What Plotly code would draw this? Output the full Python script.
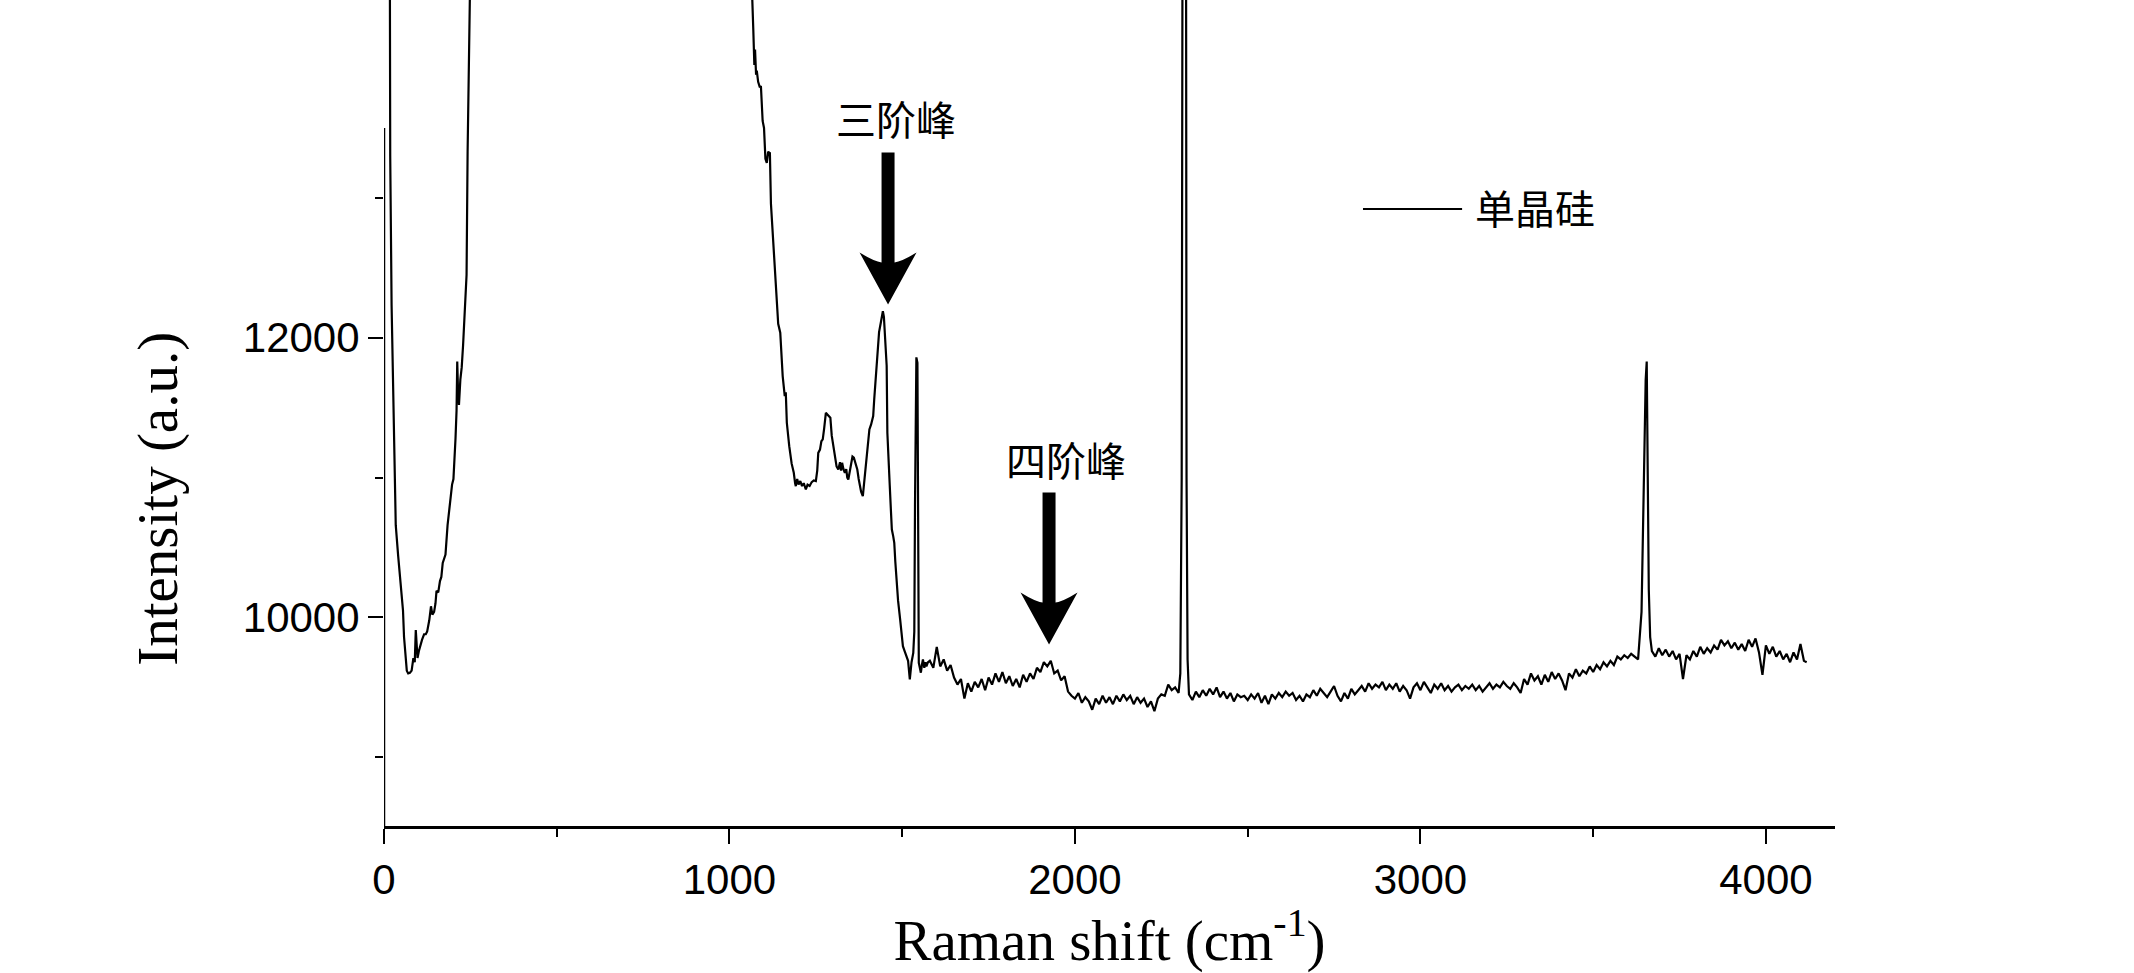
import plotly.graph_objects as go

# ---------------- data ----------------
# left Rayleigh wing / low-shift region
shift_low = [5, 15, 18, 22, 27, 34, 41, 51, 55, 58, 62, 66, 70, 75, 80, 85, 89, 92, 95, 97,
             101, 104, 110, 116, 121, 125, 131, 136, 140, 145, 149, 152, 157, 162, 166, 170,
             174, 178, 184, 188, 193, 197, 201, 205, 207, 210, 212, 214, 217, 221, 225, 229,
             232, 236, 239, 242, 246, 250, 260]
int_low = [30000, 15000, 13300, 12230, 11500, 10660, 10440, 10190, 10050, 9860, 9700, 9620,
           9600, 9605, 9620, 9710, 9680, 9910, 9790, 9710, 9760, 9790, 9840, 9880, 9880, 9900,
           9980, 10080, 10020, 10040, 10100, 10190, 10180, 10260, 10290, 10390, 10420, 10450,
           10660, 10760, 10880, 10950, 10990, 11150, 11280, 11480, 11830, 11650, 11520, 11700,
           11790, 11950, 12090, 12280, 12450, 13330, 14060, 15000, 22000]

# strong band above the visible range
shift_mid = [400, 700, 900, 1000, 1050]
int_mid = [40000, 45000, 35000, 25000, 17000]

# descending wing, second/third order features and 1540 line
shift_wing = [1060, 1066, 1069, 1072, 1074, 1077, 1079, 1083, 1088, 1091, 1096, 1100, 1104,
              1108, 1112, 1117, 1120, 1126, 1132, 1137, 1141, 1147, 1151, 1154, 1160, 1163,
              1166, 1170, 1173, 1180, 1186, 1190, 1192, 1196, 1200, 1205, 1210, 1215, 1221,
              1226, 1232, 1238, 1244, 1250, 1254, 1257, 1262, 1266, 1270, 1274, 1279, 1284,
              1288, 1292, 1296, 1300, 1302, 1306, 1310, 1315, 1320, 1323, 1326, 1330, 1334,
              1338, 1341, 1344, 1348, 1352, 1356, 1360, 1365, 1370, 1374, 1377, 1381, 1386,
              1390, 1395, 1400, 1405, 1410, 1416, 1419, 1422, 1426, 1429, 1433, 1438, 1441,
              1444, 1447, 1450, 1455, 1457, 1460, 1464, 1467, 1470, 1474, 1477, 1480, 1483,
              1488, 1494, 1498, 1502, 1507, 1512, 1517, 1522, 1527, 1532, 1535, 1537, 1539,
              1541, 1544, 1546, 1548, 1551, 1554, 1557, 1560, 1564, 1567, 1570, 1574]
int_wing = [15200, 14420, 14200, 13950, 14060, 13880, 13910, 13830, 13790, 13800, 13550, 13500,
            13280, 13250, 13330, 13320, 12960, 12700, 12410, 12250, 12100, 12036, 11800, 11726,
            11583, 11610, 11392, 11280, 11225, 11100, 11037, 10960, 10939, 10990, 10950, 10975,
            10940, 10960, 10915, 10950, 10940, 10968, 10980, 10975, 11050, 11177, 11200, 11260,
            11273, 11350, 11463, 11450, 11440, 11428, 11300, 11240, 11201, 11118, 11080, 11058,
            11110, 11050, 11106, 11060, 11035, 11060, 11000, 10987, 11050, 11120, 11150, 11142,
            11090, 11058, 10990, 10939, 10900, 10867, 10960, 11082, 11230, 11344, 11380, 11440,
            11560, 11678, 11820, 11940, 12040, 12107, 12160, 12190, 12150, 12000, 11800, 11321,
            11100, 10939, 10780, 10629, 10580, 10534, 10400, 10272, 10120, 9986, 9880, 9795,
            9760, 9723, 9690, 9557, 9680, 9747, 9900, 10800, 11845, 11860, 11821, 10500, 9676,
            9640, 9605, 9660, 9700, 9640, 9680, 9650, 9678]

# baseline 1580-2300 (fourth-order bump near 1920)
shift_base1 = [1580, 1590, 1600, 1610, 1620, 1630, 1640, 1650, 1660, 1670, 1680, 1690, 1700,
               1710, 1720, 1730, 1740, 1750, 1760, 1770, 1780, 1790, 1800, 1810, 1820, 1830,
               1840, 1850, 1860, 1870, 1880, 1890, 1900, 1910, 1920, 1930, 1940, 1950, 1960,
               1970, 1980, 1990, 2000, 2010, 2020, 2030, 2040, 2050, 2060, 2070, 2080, 2090,
               2100, 2110, 2120, 2130, 2140, 2150, 2160, 2170, 2180, 2190, 2200, 2210, 2220,
               2230, 2240, 2250, 2260, 2270, 2280, 2290, 2300]
int_base1 = [9690, 9640, 9790, 9650, 9700, 9620, 9660, 9570, 9520, 9560, 9420, 9530, 9470,
             9540, 9500, 9560, 9480, 9570, 9520, 9600, 9540, 9610, 9530, 9580, 9510, 9560,
             9500, 9590, 9540, 9600, 9560, 9640, 9610, 9680, 9650, 9690, 9600, 9620, 9550,
             9580, 9470, 9440, 9420, 9460, 9390, 9430, 9400, 9340, 9420, 9380, 9440, 9390,
             9430, 9380, 9440, 9400, 9450, 9410, 9440, 9380, 9430, 9390, 9420, 9360, 9400,
             9330, 9420, 9450, 9440, 9520, 9480, 9500, 9460]

# sharp line near 2316 (top beyond the visible range)
shift_p2316 = [2305, 2309, 2312, 2316, 2320, 2323, 2326, 2330]
int_p2316 = [9600, 11000, 16000, 30000, 16000, 11000, 9700, 9450]

# baseline 2340-3630
shift_base2 = [2340, 2350, 2360, 2370, 2380, 2390, 2400, 2410, 2420, 2430, 2440, 2450, 2460,
               2470, 2480, 2490, 2500, 2510, 2520, 2530, 2540, 2550, 2560, 2570, 2580, 2590,
               2600, 2610, 2620, 2630, 2640, 2650, 2660, 2670, 2680, 2690, 2700, 2710, 2720,
               2730, 2740, 2750, 2760, 2770, 2780, 2790, 2800, 2810, 2820, 2830, 2840, 2850,
               2860, 2870, 2880, 2890, 2900, 2910, 2920, 2930, 2940, 2950, 2960, 2970, 2980,
               2990, 3000, 3010, 3020, 3030, 3040, 3050, 3060, 3070, 3080, 3090, 3100, 3110,
               3120, 3130, 3140, 3150, 3160, 3170, 3180, 3190, 3200, 3210, 3220, 3230, 3240,
               3250, 3260, 3270, 3280, 3290, 3300, 3310, 3320, 3330, 3340, 3350, 3360, 3370,
               3380, 3390, 3400, 3410, 3420, 3430, 3440, 3450, 3460, 3470, 3480, 3490, 3500,
               3510, 3520, 3530, 3540, 3550, 3560, 3570, 3580, 3590, 3600, 3610, 3620, 3630]
int_base2 = [9410, 9470, 9430, 9480, 9440, 9490, 9450, 9500, 9430, 9470, 9420, 9460, 9400,
             9450, 9430, 9440, 9410, 9450, 9420, 9460, 9390, 9440, 9380, 9450, 9420, 9460,
             9430, 9470, 9440, 9460, 9410, 9440, 9400, 9450, 9430, 9480, 9440, 9490, 9460,
             9430, 9470, 9510, 9440, 9400, 9460, 9420, 9490, 9450, 9480, 9510, 9470, 9530,
             9490, 9520, 9500, 9540, 9480, 9520, 9490, 9530, 9470, 9510, 9480, 9420, 9500,
             9530, 9480, 9540, 9500, 9460, 9520, 9490, 9530, 9480, 9510, 9470, 9500, 9520,
             9480, 9510, 9490, 9520, 9480, 9510, 9470, 9500, 9530, 9490, 9520, 9500, 9540,
             9510, 9490, 9530, 9500, 9460, 9560, 9520, 9600, 9550, 9580, 9520, 9590, 9540,
             9610, 9560, 9600, 9550, 9480, 9600, 9570, 9630, 9580, 9620, 9600, 9650, 9610,
             9660, 9630, 9680, 9650, 9690, 9660, 9720, 9700, 9730, 9710, 9740, 9720, 9700]

# line near 3655
shift_p3655 = [3640, 3647, 3652, 3655, 3658, 3661, 3665]
int_p3655 = [10040, 11140, 11700, 11830, 11000, 10200, 9860]

# baseline 3670-4118
shift_base3 = [3670, 3680, 3690, 3700, 3710, 3720, 3730, 3740, 3750, 3760, 3770, 3780, 3790,
               3800, 3810, 3820, 3830, 3840, 3850, 3860, 3870, 3880, 3890, 3900, 3910, 3920,
               3930, 3940, 3950, 3960, 3970, 3980, 3990, 4000, 4010, 4020, 4030, 4040, 4050,
               4060, 4070, 4080, 4090, 4100, 4110, 4118]
int_base3 = [9760, 9720, 9780, 9730, 9770, 9720, 9760, 9700, 9740, 9560, 9730, 9700, 9760,
             9720, 9790, 9740, 9780, 9750, 9800, 9770, 9840, 9800, 9830, 9780, 9820, 9770,
             9810, 9760, 9840, 9790, 9850, 9750, 9590, 9800, 9740, 9790, 9720, 9760, 9700,
             9740, 9680, 9750, 9700, 9810, 9690, 9680]

x_tick_vals = [0, 1000, 2000, 3000, 4000]
x_tick_text = ["0", "1000", "2000", "3000", "4000"]
x_minor_vals = [500, 1500, 2500, 3500]
y_tick_vals = [10000, 12000]
y_tick_text = ["10000", "12000"]
y_minor_vals = [9000, 11000, 13000]

series_name = "单晶硅"
label_third = "三阶峰"
label_fourth = "四阶峰"
third_peak_shift, third_peak_int = 1459, 12238
fourth_peak_shift, fourth_peak_int = 1925, 9807

# ---------------- figure ----------------
shift = (shift_low + shift_mid + shift_wing + shift_base1 + shift_p2316 +
         shift_base2 + shift_p3655 + shift_base3)
intensity = (int_low + int_mid + int_wing + int_base1 + int_p2316 +
             int_base2 + int_p3655 + int_base3)

W, H = 2134, 973
ML, MR, MT, MB = 384, 299, 0, 147
x_range = [0, 4200]
y_range = [8509, 14415]

fig = go.Figure()
fig.add_trace(go.Scatter(x=shift, y=intensity, mode="lines", name=series_name,
                         line=dict(color="black", width=2.2), showlegend=False))

tick_font = dict(family="Liberation Sans, Arial", size=42, color="black")
title_font = dict(family="Liberation Serif, Times New Roman", size=57, color="black")

fig.update_layout(
    width=W, height=H,
    margin=dict(l=ML, r=MR, t=MT, b=MB, pad=0, autoexpand=False),
    paper_bgcolor="white", plot_bgcolor="white",
    xaxis=dict(range=x_range, tickmode="array", tickvals=x_tick_vals, ticktext=x_tick_text,
               ticks="outside", ticklen=15, tickwidth=1.5, tickcolor="black",
               minor=dict(tickmode="array", tickvals=x_minor_vals, ticks="outside",
                          ticklen=8, tickwidth=1.5, tickcolor="black", showgrid=False),
               showline=True, linecolor="black", linewidth=2.5,
               showgrid=False, zeroline=False, tickfont=tick_font, automargin=False,
               title=dict(text="Raman shift (cm<sup>-1</sup>)", font=title_font, standoff=14)),
    yaxis=dict(range=y_range, tickmode="array", tickvals=y_tick_vals, ticktext=y_tick_text,
               ticks="outside", ticklen=15, tickwidth=1.5, tickcolor="black",
               minor=dict(tickmode="array", tickvals=y_minor_vals, ticks="outside",
                          ticklen=8, tickwidth=1.5, tickcolor="black", showgrid=False),
               showline=False, showgrid=False, zeroline=False, tickfont=tick_font,
               automargin=False),
)

# y-axis title as rotated text (centred like the reference)
fig.add_annotation(xref="paper", yref="paper", x=-0.1558, y=0.396, xanchor="center",
                   yanchor="middle", text="Intensity (a.u.)", textangle=-90,
                   showarrow=False, font=title_font)

# y-axis line (ends at 13500 like the reference)
fig.add_shape(type="line", xref="x", yref="y", x0=0, x1=0, y0=y_range[0], y1=13500,
              line=dict(color="black", width=2.5), layer="above")

# legend drawn manually
fig.add_shape(type="line", xref="paper", yref="paper", x0=0.6747, x1=0.743, y0=0.747, y1=0.747,
              line=dict(color="black", width=2))
fig.add_annotation(xref="paper", yref="paper", x=0.7505, y=0.749, xanchor="left", yanchor="middle",
                   text=series_name, showarrow=False,
                   font=dict(family="Noto Sans CJK SC", size=40, color="black"))

cjk_font = dict(family="Noto Sans CJK SC", size=40, color="black")
fig.add_annotation(xref="paper", yref="paper", x=0.3529, y=0.857, xanchor="center", yanchor="middle",
                   text=label_third, showarrow=False, font=cjk_font)
fig.add_annotation(xref="paper", yref="paper", x=0.470, y=0.4443, xanchor="center", yanchor="middle",
                   text=label_fourth, showarrow=False, font=cjk_font)

# thick down arrows (pixel-sized shapes anchored at the peak positions)
arrow_path = "M0,0 L-28.5,52 Q-14,43 -6.5,42 L-6.5,152 L6.5,152 L6.5,42 Q14,43 28.5,52 Z"
for sx, sy in [(third_peak_shift, third_peak_int), (fourth_peak_shift, fourth_peak_int)]:
    fig.add_shape(type="path", xref="x", yref="y", xsizemode="pixel", ysizemode="pixel",
                  xanchor=sx, yanchor=sy, path=arrow_path,
                  fillcolor="black", line=dict(color="black", width=0), layer="above")

fig.write_html("out.html", config={"displayModeBar": False},
               post_script="document.body.style.margin='0';")
